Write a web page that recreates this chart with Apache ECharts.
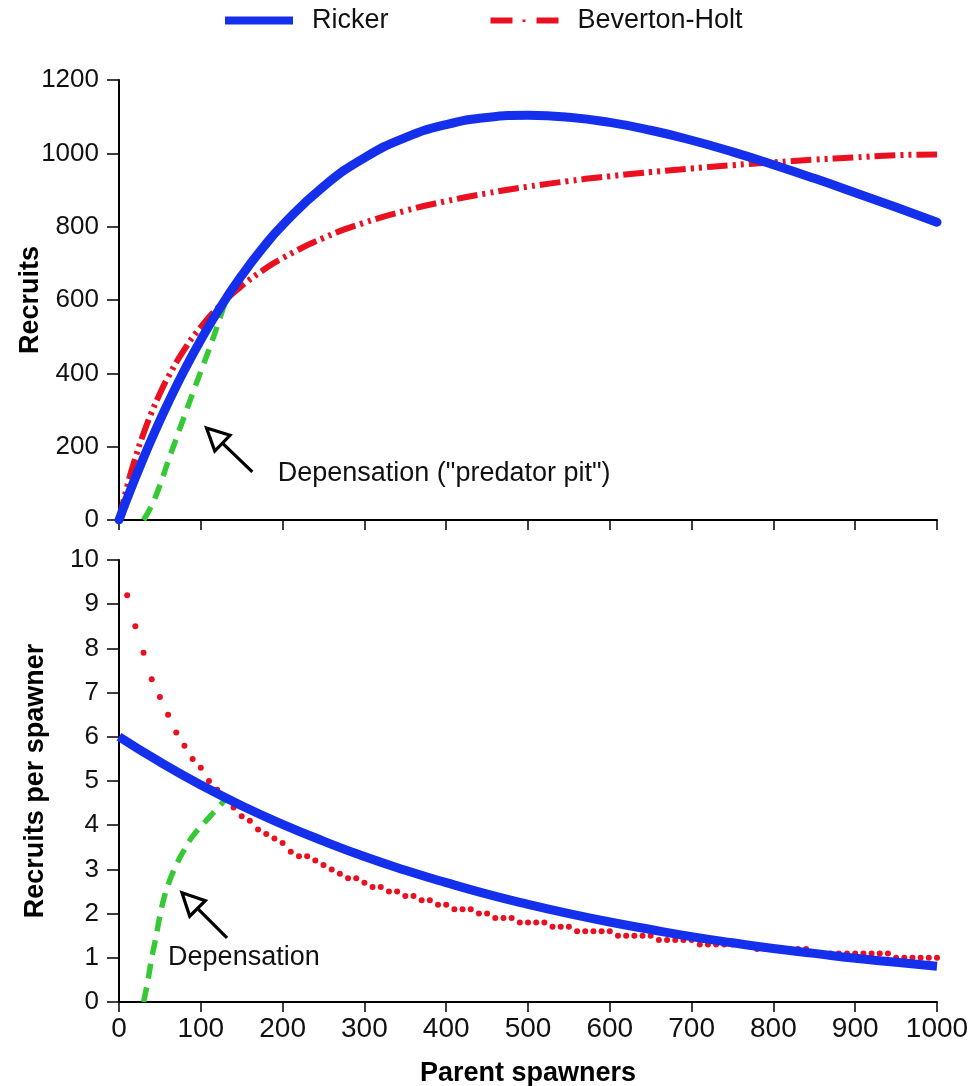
<!DOCTYPE html>
<html>
<head>
<meta charset="utf-8">
<script src="https://cdn.jsdelivr.net/npm/echarts@6/dist/echarts.min.js"></script>
<style>
html,body{margin:0;padding:0;background:#fff;}
#main{width:969px;height:1086px;}
</style>
</head>
<body>
<div id="main"></div>
<script>
// ---- Data ----
const spawners = [0,10,20,30,40,50,60,80,100,125,150,175,200,250,300,350,400,450,500,550,600,650,700,750,800,850,900,950,1000];
const rickerRecruits = [0,58.8,115.3,169.5,221.6,271.5,319.3,409.0,491.2,584.1,666.7,739.9,804.4,909.8,987.8,1042.8,1078.4,1097.8,1103.6,1098.5,1084.3,1062.9,1035.7,1004.1,969.1,931.8,892.6,852.7,812.0];
const bhRecruits = [0,91.7,169.5,236.2,294.1,344.8,389.6,465.1,526.3,588.2,638.3,679.6,714.3,769.2,810.8,843.4,869.6,891.1,909.1,924.4,937.5,948.9,958.9,967.7,975.6,982.7,989.0,994.8,997.0];

const depSpawnersTop = [30,40,50,60,70,80,90,100,110,120,130];
const depRecruits = [0,40,95,160,222,284,345,405,465,528,595];
const depSpawnersBottom = [30,35,40,45,50,55,60,70,80,90,100,110,120,132];
const depPerSpawner = [0,0.45,1.0,1.45,1.95,2.35,2.65,3.1,3.45,3.75,3.97,4.17,4.38,4.62];

const rpsSpawners = [0,50,100,150,200,250,300,350,400,450,500,550,600,650,700,750,800,850,900,950,1000];
const rickerPerSpawner = [6.0,5.43,4.91,4.44,4.02,3.64,3.29,2.98,2.70,2.44,2.21,2.00,1.81,1.64,1.48,1.34,1.21,1.10,0.99,0.90,0.81];

const dotSpawners = [10,20,30,40,50,60,70,80,90,100,110,120,130,140,150,160,170,180,190,200,
  210,220,230,240,250,260,270,280,290,300,310,320,330,340,350,360,370,380,390,400,
  410,420,430,440,450,460,470,480,490,500,510,520,530,540,550,560,570,580,590,600,
  610,620,630,640,650,660,670,680,690,700,710,720,730,740,750,760,770,780,790,800,
  810,820,830,840,850,860,870,880,890,900,910,920,930,940,950,960,970,980,990,1000];
const bhPerSpawner = [9.2,8.5,7.9,7.3,6.9,6.5,6.1,5.8,5.5,5.3, 5.0,4.8,4.6,4.4,4.2,4.1,3.9,3.8,3.7,3.6,
  3.4,3.3,3.3,3.2,3.1,3.0,2.9,2.8,2.8,2.7, 2.6,2.6,2.5,2.5,2.4,2.4,2.3,2.3,2.2,2.2,
  2.1,2.1,2.1,2.0,2.0,1.9,1.9,1.9,1.8,1.8, 1.8,1.8,1.7,1.7,1.7,1.6,1.6,1.6,1.6,1.6,
  1.5,1.5,1.5,1.5,1.5,1.4,1.4,1.4,1.4,1.4, 1.3,1.3,1.3,1.3,1.3,1.3,1.3,1.2,1.2,1.2,
  1.2,1.2,1.2,1.2,1.1,1.1,1.1,1.1,1.1,1.1, 1.1,1.1,1.1,1.1,1.0,1.0,1.0,1.0,1.0,1.0];

const legendNames = ['Ricker','Beverton-Holt'];

// annotation anchors (data coordinates)
const annotations = [
  {grid:0, tip:[107,251], tail:[163,131], text:'Depensation ("predator pit")', at:[194,128]},
  {grid:1, tip:[77,2.47], tail:[132,1.45], text:'Depensation', at:[60,1.0]}
];

// ---- helpers ----
const zip = (xs, ys) => xs.map((x, i) => [x, ys[i]]);
const BLUE = '#1530ec', RED = '#ea1020', GREEN = '#36c936';
const FONT = '"Liberation Sans", Arial, Helvetica, sans-serif';
const plain = v => String(v);

const axisLine = {show:true, onZero:false, lineStyle:{color:'#000', width:2}};
const axisTick = {show:true, inside:false, lineStyle:{color:'#000', width:1.5}};

const chart = echarts.init(document.getElementById('main'), null, {renderer:'canvas'});

const option = {
  animation:false,
  backgroundColor:'#fff',
  textStyle:{fontFamily:FONT},
  legend:{
    data:[
      {name:legendNames[0], icon:'path://M0,0h68v8h-68z'},
      {name:legendNames[1], icon:'path://M0,0h22v6h-22z M32,2h3v2.5h-3z M46,0h22v6h-22z'}
    ],
    left:220, top:2, itemWidth:68, itemHeight:8, itemGap:102,
    textStyle:{fontSize:27, color:'#111', fontFamily:FONT, padding:[0,0,0,14]}
  },
  grid:[
    {left:119, right:32, top:80, height:440, outerBoundsMode:'none', containLabel:false},
    {left:119, right:32, top:560, height:442, outerBoundsMode:'none', containLabel:false}
  ],
  xAxis:[
    {type:'value', gridIndex:0, min:0, max:1000, interval:100,
     axisLine, axisTick:Object.assign({length:10}, axisTick), axisLabel:{show:false}, splitLine:{show:false}},
    {type:'value', gridIndex:1, min:0, max:1000, interval:100,
     axisLine, axisTick:Object.assign({length:10}, axisTick),
     axisLabel:{show:true, margin:13, fontSize:28, color:'#111', formatter:plain, fontFamily:FONT},
     splitLine:{show:false},
     name:'Parent spawners', nameLocation:'middle', nameGap:58, nameMoveOverlap:false,
     nameTextStyle:{fontSize:27, fontWeight:'bold', color:'#000', fontFamily:FONT}}
  ],
  yAxis:[
    {type:'value', gridIndex:0, min:0, max:1200, interval:200,
     axisLine, axisTick:Object.assign({length:12}, axisTick),
     axisLabel:{margin:20, fontSize:26, color:'#111', fontFamily:FONT, formatter:plain},
     splitLine:{show:false},
     name:'Recruits', nameLocation:'middle', nameGap:75, nameMoveOverlap:false,
     nameTextStyle:{fontSize:27, fontWeight:'bold', color:'#000', fontFamily:FONT}},
    {type:'value', gridIndex:1, min:0, max:10, interval:1,
     axisLine, axisTick:Object.assign({length:12}, axisTick),
     axisLabel:{margin:20, fontSize:26, color:'#111', fontFamily:FONT, formatter:plain},
     splitLine:{show:false},
     name:'Recruits per spawner', nameLocation:'middle', nameGap:70, nameMoveOverlap:false,
     nameTextStyle:{fontSize:27, fontWeight:'bold', color:'#000', fontFamily:FONT}}
  ],
  series:[
    {name:'Beverton-Holt', type:'line', xAxisIndex:0, yAxisIndex:0, data:zip(spawners, bhRecruits),
     smooth:true, symbol:'none', z:3, color:RED,
     lineStyle:{color:RED, width:6, type:[21,5,3,5,3,5], cap:'butt'}},
    {name:'Ricker', type:'line', xAxisIndex:0, yAxisIndex:0, data:zip(spawners, rickerRecruits),
     smooth:true, symbol:'none', z:4, color:BLUE,
     lineStyle:{color:BLUE, width:9, cap:'round'}},
    {name:'Depensation', type:'line', xAxisIndex:0, yAxisIndex:0, data:zip(depSpawnersTop, depRecruits),
     smooth:true, symbol:'none', z:2, color:GREEN,
     lineStyle:{color:GREEN, width:5.5, type:[15,9]}},
    {name:'Beverton-Holt', type:'scatter', xAxisIndex:1, yAxisIndex:1, data:zip(dotSpawners, bhPerSpawner),
     symbol:'circle', symbolSize:6, z:3, itemStyle:{color:RED, opacity:1}},
    {name:'Ricker', type:'line', xAxisIndex:1, yAxisIndex:1, data:zip(rpsSpawners, rickerPerSpawner),
     smooth:true, symbol:'none', z:4, color:BLUE,
     lineStyle:{color:BLUE, width:9, cap:'butt'}},
    {name:'DepensationRPS', type:'line', xAxisIndex:1, yAxisIndex:1, data:zip(depSpawnersBottom, depPerSpawner),
     smooth:true, symbol:'none', z:2, color:GREEN,
     lineStyle:{color:GREEN, width:5.5, type:[15,9]}}
  ]
};
chart.setOption(option);

// ---- annotations: hollow arrows + labels placed via axis scales ----
const graphics = [];
annotations.forEach(a => {
  const finder = {xAxisIndex:a.grid, yAxisIndex:a.grid};
  const tip = chart.convertToPixel(finder, a.tip);
  const tail = chart.convertToPixel(finder, a.tail);
  const at = chart.convertToPixel(finder, a.at);
  const dx = tip[0]-tail[0], dy = tip[1]-tail[1];
  const len = Math.sqrt(dx*dx+dy*dy);
  const ux = dx/len, uy = dy/len, nx = -uy, ny = ux;
  const headLen = 22, halfW = 11;
  const bx = tip[0]-ux*headLen, by = tip[1]-uy*headLen;
  graphics.push({type:'line', shape:{x1:tail[0], y1:tail[1], x2:bx, y2:by},
    style:{stroke:'#000', lineWidth:3.2}, z:10});
  graphics.push({type:'polygon', shape:{points:[tip,[bx+nx*halfW, by+ny*halfW],[bx-nx*halfW, by-ny*halfW]]},
    style:{fill:'#fff', stroke:'#000', lineWidth:3.2, lineJoin:'miter'}, z:10});
  graphics.push({type:'text', x:at[0], y:at[1], z:10,
    style:{text:a.text, fontSize:27, fontFamily:FONT, fill:'#111', verticalAlign:'middle', align:'left'}});
});
chart.setOption({graphic:graphics});
</script>
</body>
</html>
